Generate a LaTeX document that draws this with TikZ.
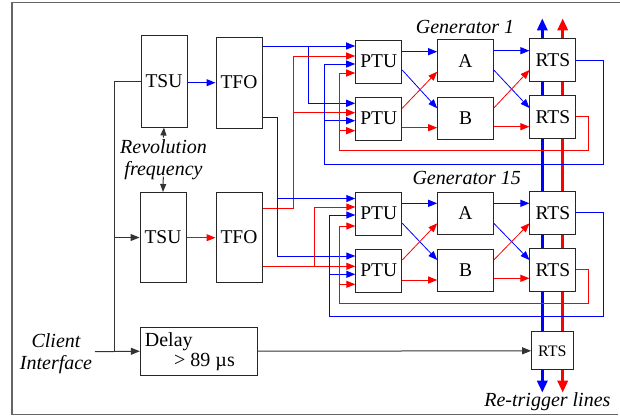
\documentclass[tikz,border=0pt]{standalone}
\usepackage{fontspec}
\setmainfont{Liberation Serif}
\usetikzlibrary{arrows.meta,backgrounds}
\begin{document}
\begin{tikzpicture}[x=1pt,y=-1pt,
  blk/.style={draw=black!85, fill=white, line width=1pt, inner sep=0pt, font=\fontsize{19.5}{20}\selectfont},
  bl/.style={blue, line width=1pt},
  rd/.style={red, line width=1pt},
  bk/.style={black!80, line width=1pt},
  arr/.style={-{Triangle[length=9pt,width=7pt]}},
  lab/.style={font=\fontsize{20}{22.4}\selectfont\itshape, inner sep=0pt, align=center},
  bus/.style={line width=3pt, {Triangle[length=12pt,width=10pt]}-{Triangle[length=12pt,width=10pt]}}
]
\useasboundingbox (0,0) rectangle (620,416);
% frame
\draw[black!60, line width=1.3pt] (620,2.5) -- (12,2.5) -- (12,414.3) -- (618,414.3);

% boxes
\node[blk, minimum width=46pt, minimum height=92pt] (tsu1) at (164,81) {TSU};
\node[blk, minimum width=46pt, minimum height=91pt] (tfo1) at (239,82.5) {TFO};
\node[blk, minimum width=46pt, minimum height=90pt] (tsu2) at (163,237.5) {TSU};
\node[blk, minimum width=46pt, minimum height=90pt] (tfo2) at (239,237.5) {TFO};

\node[blk, minimum width=46pt, minimum height=43pt] (ptu1) at (378.7,61.7) {PTU};
\node[blk, minimum width=46pt, minimum height=43pt] (ptu2) at (378.7,118.7) {PTU};
\node[blk, minimum width=55.6pt, minimum height=41.7pt] (a1) at (465.5,60.8) {A};
\node[blk, minimum width=55.6pt, minimum height=41.7pt] (b1) at (465.5,118.2) {B};

\node[blk, minimum width=46pt, minimum height=43pt] (ptu3) at (378.8,213.7) {PTU};
\node[blk, minimum width=46pt, minimum height=43pt] (ptu4) at (378.8,270.5) {PTU};
\node[blk, minimum width=55.6pt, minimum height=41.7pt] (a2) at (465.5,213.2) {A};
\node[blk, minimum width=55.6pt, minimum height=41.7pt] (b2) at (465.5,270.2) {B};

% bus lines behind RTS boxes
\coordinate (bbtop) at (542.3,18.3);
\coordinate (bbbot) at (542.3,392.7);
\coordinate (rbtop) at (562.7,18.3);
\coordinate (rbbot) at (562.7,392.7);
\draw[bus, blue] (bbtop) -- (bbbot);
\draw[bus, red] (rbtop) -- (rbbot);

\node[blk, minimum width=45.7pt, minimum height=42.7pt] (rts1) at (552.8,59.7) {RTS};
\node[blk, minimum width=45.7pt, minimum height=42.7pt] (rts2) at (552.8,117) {RTS};
\node[blk, minimum width=45.7pt, minimum height=43.3pt] (rts3) at (552.8,212.7) {RTS};
\node[blk, minimum width=45.7pt, minimum height=42.7pt] (rts4) at (552.8,269.7) {RTS};
\node[blk, minimum width=41.4pt, minimum height=38.3pt, font=\fontsize{16}{17}\selectfont] (rts5) at (552.3,350.8) {RTS};

\node[blk, minimum width=116.7pt, minimum height=47.7pt] (delay) at (198.7,351.2) {};
\node[font=\fontsize{20}{21}\selectfont, inner sep=0pt, anchor=base west] (dtxt) at (144.7,346.7) {Delay};
\node[font=\fontsize{20}{21}\selectfont, inner sep=0pt, anchor=base west] (dval) at (174,366.7) {> 89 µs};

% labels
\node[lab, anchor=base] (g1) at (465,33.3) {Generator 1};
\node[lab, anchor=base] (g15) at (466.7,184) {Generator 15};
\node[lab] (rf) at (163.5,160) {Revolution\\frequency};
\node[lab] (ci) at (56,353.5) {Client\\Interface};
\node[lab, anchor=base] (rtl) at (547.4,406) {Re-trigger lines};

% black connectors
\coordinate (rfa) at (163.3,137.5);
\coordinate (rfb) at (163.3,176.5);
\draw[bk, -{Triangle[length=8pt,width=6pt]}] (rfa) -- (tsu1.south);
\draw[bk, -{Triangle[length=8pt,width=6pt]}] (rfb) -- (tsu2.north);
\coordinate (vl) at (114.6,351.7);
\coordinate (cl) at (95,351.7);
\draw[bk] (tsu1.west) -| (vl);
\draw[bk, arr] (vl |- tsu2.west) -- (tsu2.west);
\draw[bk, arr] (cl) -- (delay.west);
\draw[bk, arr] (delay.east) -- (rts5.west);

% Generator 1 inputs
\draw[bl,arr] (tfo1.east |- 0,46) -- (ptu1.west |- 0,46);
\draw[bl,arr] (308,46) |- (ptu2.west |- 0,103.3);
\draw[rd,arr] (tfo2.east |- 0,208.3) -| (293,56) -- (ptu1.west |- 0,56);
\draw[rd,arr] (293,112.7) -- (ptu2.west |- 0,112.7);
\draw[bl,arr] (rts1.east |- 0,60) -| (603.3,164.3) -| (324,64) -- (ptu1.west |- 0,64);
\draw[bl,arr] (324,120.7) -- (ptu2.west |- 0,120.7);
\draw[rd,arr] (rts2.east |- 0,116.7) -| (588.3,150) -| (339.3,73) -- (ptu1.west |- 0,73);
\draw[rd,arr] (339.3,130.7) -- (ptu2.west |- 0,130.7);

% Generator 15 inputs
\draw[bl,arr] (tfo1.east |- 0,117.7) -| (277.3,198.5) -- (ptu3.west |- 0,198.5);
\draw[bl,arr] (277.3,198.5) |- (ptu4.west |- 0,256);
\draw[rd,arr] (tfo2.east |- 0,266.3) -- (ptu4.west |- 0,266.3);
\draw[rd,arr] (314,266.3) |- (ptu3.west |- 0,207);
\draw[bl,arr] (rts3.east |- 0,212.3) -| (603.3,316.7) -| (329.3,215) -- (ptu3.west |- 0,215);
\draw[bl,arr] (329.3,274.3) -- (ptu4.west |- 0,274.3);
\draw[rd,arr] (rts4.east |- 0,269.3) -| (588.3,303.3) -| (339.5,226) -- (ptu3.west |- 0,226);
\draw[rd,arr] (339.5,284.3) -- (ptu4.west |- 0,284.3);

% TSU -> TFO
\draw[bl,arr] (tsu1.east |- 0,82.7) -- (tfo1.west |- 0,82.7);
\draw[rd,arr] (tsu2.east |- 0,237.7) -- (tfo2.west |- 0,237.7);

% Generator 1 internal
\draw[bl,arr] (ptu1.east |- 0,51.7) -- (a1.west |- 0,51.7);
\draw[bl,arr,line width=0.8pt] (ptu1.east |- 0,70) -- (b1.west |- 0,108.3);
\draw[rd,arr,line width=0.8pt] (ptu2.east |- 0,108.3) -- (a1.west |- 0,71.7);
\draw[rd,arr] (ptu2.east |- 0,127.7) -- (b1.west |- 0,127.7);
\draw[bl,arr] (a1.east |- 0,50.7) -- (rts1.west |- 0,50.7);
\draw[bl,arr,line width=0.8pt] (a1.east |- 0,70) -- (rts2.west |- 0,108);
\draw[rd,arr,line width=0.8pt] (b1.east |- 0,108) -- (rts1.west |- 0,70);
\draw[rd,arr] (b1.east |- 0,126.7) -- (rts2.west |- 0,126.7);

% Generator 15 internal
\draw[bl,arr] (ptu3.east |- 0,203.3) -- (a2.west |- 0,203.3);
\draw[bl,arr,line width=0.8pt] (ptu3.east |- 0,223.3) -- (b2.west |- 0,260);
\draw[rd,arr,line width=0.8pt] (ptu4.east |- 0,260) -- (a2.west |- 0,223.3);
\draw[rd,arr] (ptu4.east |- 0,280) -- (b2.west |- 0,280);
\draw[bl,arr] (a2.east |- 0,203.3) -- (rts3.west |- 0,203.3);
\draw[bl,arr,line width=0.8pt] (a2.east |- 0,223.3) -- (rts4.west |- 0,260);
\draw[rd,arr,line width=0.8pt] (b2.east |- 0,260) -- (rts3.west |- 0,223.3);
\draw[rd,arr] (b2.east |- 0,278.3) -- (rts4.west |- 0,278.3);
\end{tikzpicture}
\end{document}
